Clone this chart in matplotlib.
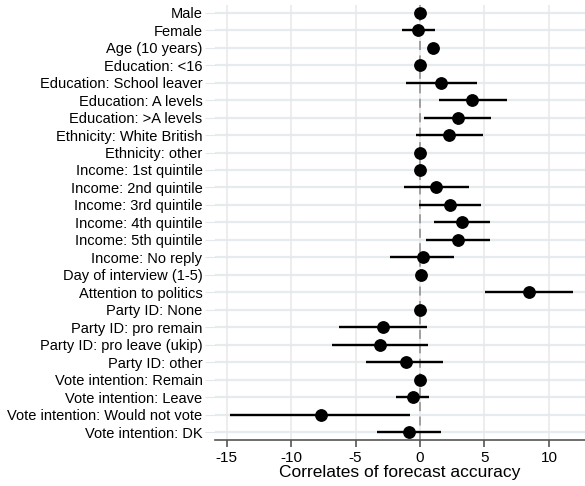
import numpy as np
import matplotlib.pyplot as plt

plt.rcParams['font.family'] = ['Liberation Sans', 'DejaVu Sans']

labels = ['Male', 'Female', 'Age (10 years)', 'Education: <16', 'Education: School leaver',
          'Education: A levels', 'Education: >A levels', 'Ethnicity: White British',
          'Ethnicity: other', 'Income: 1st quintile', 'Income: 2nd quintile',
          'Income: 3rd quintile', 'Income: 4th quintile', 'Income: 5th quintile',
          'Income: No reply', 'Day of interview (1-5)', 'Attention to politics',
          'Party ID: None', 'Party ID: pro remain', 'Party ID: pro leave (ukip)',
          'Party ID: other', 'Vote intention: Remain', 'Vote intention: Leave',
          'Vote intention: Would not vote', 'Vote intention: DK']
coef = [0, -0.13, 1.03, 0, 1.63, 4.06, 2.92, 2.25, 0, 0, 1.27, 2.3, 3.26, 2.98,
        0.21, 0.08, 8.46, 0, -2.85, -3.08, -1.11, 0, -0.57, -7.71, -0.88]
lower = [0, -1.42, 0.7, 0, -1.11, 1.45, 0.31, -0.34, 0, 0, -1.22, -0.1, 1.11, 0.49,
         -2.3, -0.15, 5.05, 0, -6.26, -6.81, -4.17, 0, -1.86, -14.73, -3.31]
upper = [0, 1.19, 1.35, 0, 4.4, 6.73, 5.54, 4.89, 0, 0, 3.8, 4.71, 5.43, 5.43,
         2.64, 0.3, 11.9, 0, 0.52, 0.65, 1.81, 0, 0.72, -0.75, 1.61]

fig = plt.figure(figsize=(5.85, 4.86), dpi=100)
ax = fig.add_axes([0.3675, 0.0947, 0.6325, 0.8953])

y = np.arange(len(labels))
ax.set_axisbelow(True)
ax.grid(axis='x', color='#e8e8e8', lw=1.1)
for yy in y:
    ax.axhline(yy, color='#e5ecef', lw=1.6, zorder=0)
ax.axvline(0, color='#999999', lw=1.3, ls=(0, (5, 3)), zorder=1)
ax.hlines(y, lower, upper, color='black', lw=1.7, zorder=2)
ax.plot(coef, y, 'o', color='black', ms=8.2, zorder=3)

ax.set_yticks(y)
ax.set_yticklabels(labels, fontsize=10.5)
ax.set_ylim(24.45, -0.45)
ax.set_xlim(-15.9, 12.8)
ax.set_xticks([-15, -10, -5, 0, 5, 10])
ax.set_xticklabels(['-15', '-10', '-5', '0', '5', '10'], fontsize=11)
ax.set_xlabel('Correlates of forecast accuracy', fontsize=12.5, labelpad=0)

for s in ['top', 'right', 'left']:
    ax.spines[s].set_visible(False)
ax.spines['bottom'].set_color('#555555')
ax.spines['bottom'].set_linewidth(1.2)
ax.tick_params(axis='y', length=7, color='#e3e8ea', pad=2)
ax.tick_params(axis='x', length=5, color='#555555', width=1.2, pad=3)

fig.savefig('out.png', dpi=100)
